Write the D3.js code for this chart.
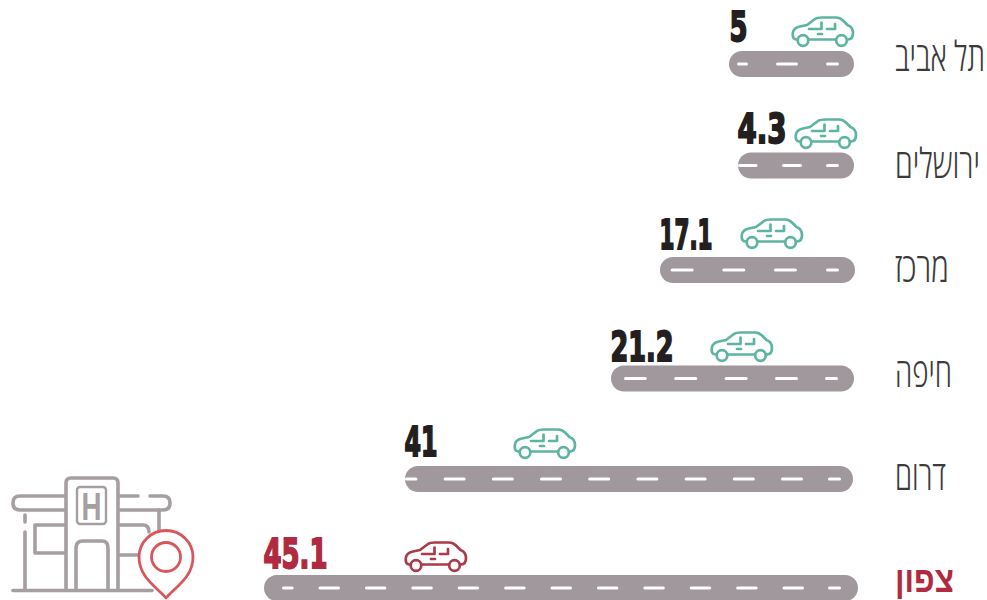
<!DOCTYPE html>
<html lang="he">
<head>
<meta charset="utf-8">
<script src="https://cdn.jsdelivr.net/npm/d3@7/dist/d3.min.js"></script>
<style>
html,body{margin:0;padding:0;background:#fff;overflow:hidden}
svg{display:block}
</style>
</head>
<body>
<svg id="chart" width="987" height="600"></svg>
<script>
// ---- data ----
const categories = ["תל אביב","ירושלים","מרכז","חיפה","דרום","צפון"];
const values = [5,4.3,17.1,21.2,41,45.1];
const valueLabels = ["5","4.3","17.1","21.2","41","45.1"];
const highlighted = "צפון";

// ---- layout / style ----
const ROAD = "#a0989c", TEAL = "#5db4a2", RED = "#b02b42", CARRED = "#a93b4a", PIN = "#d8565c", INK = "#231f20", LABEL = "#3b3b3b", ICON = "#a69fa2";
const svg = d3.select("#chart");

// The original's road lengths are not proportional to the figures, so the value scale is piecewise.
const xLeft = d3.scaleLinear().domain([4.3,5,17.1,21.2,41,45.1]).range([738,729,660,611,405,264]);
const by = (range) => d3.scaleOrdinal(categories, range);
const roadY = by([64,165.5,270,378.5,479,588]);
const roadRight = by([854,854,855,854,853,858]);
const roadH = 26;
const numBase = by([40.5,142.5,248.5,360.5,455.5,567.5]);
const numW = by([18,49,53,63,33,64]);
const carX = by([792,795,741,711,514,405]);
const carY = by([16.5,118.5,218.5,331.5,428.5,541.5]);
const labelBase = by([71,178,282,387,490,592]);
const labelW = by([90,85,54,57,51,59]);
const lastEnd = by([839,839,839,838,841,841]);
const fullEnd = by([798,802,797,798,803,804]);
const period = by([50,44.5,51.7,50.4,48.2,46.4]);
const dashLen = by([22,20,23,23,22,21.5]);
const dashInset = by([8,0,10,13,0,18]);

const dashesFor = (c, left) => {
  const out = [[lastEnd(c)-13, lastEnd(c)]];
  for (let end = fullEnd(c); end > left + dashInset(c) + 4; end -= period(c)) {
    out.push([Math.max(end - dashLen(c), left + dashInset(c)), end]);
  }
  return out;
};

const rows = categories.map((c,i)=>({c, v:values[i], label:valueLabels[i], hot:c===highlighted}));
const g = svg.selectAll("g.row").data(rows).join("g").attr("class","row");

// squeeze a text horizontally to the width it has in the original
function fit(sel, xf, yf, wf){
  sel.each(function(d){
    const n = this.getComputedTextLength();
    d3.select(this).attr("transform",`translate(${xf(d)},${yf(d)}) scale(${wf(d)/n},1)`);
  });
}

// roads
g.append("rect")
  .attr("x", d=>xLeft(d.v))
  .attr("y", d=>roadY(d.c)-roadH/2)
  .attr("width", d=>roadRight(d.c)-xLeft(d.v))
  .attr("height", roadH)
  .attr("rx", 13)
  .attr("fill", ROAD);

// lane dashes
g.selectAll("line.dash").data(d=>dashesFor(d.c,xLeft(d.v)).map(s=>({s,c:d.c}))).join("line")
  .attr("class","dash")
  .attr("x1", d=>d.s[0]+1.5).attr("x2", d=>d.s[1]-1.5)
  .attr("y1", d=>roadY(d.c)).attr("y2", d=>roadY(d.c))
  .attr("stroke","#fff").attr("stroke-width",3).attr("stroke-linecap","round");

// value numbers
g.append("text")
  .attr("class","num")
  .attr("direction","ltr")
  .style("font","700 41px 'DejaVu Sans'")
  .attr("fill", d=>d.hot?RED:INK)
  .attr("stroke", d=>d.hot?RED:INK)
  .attr("stroke-width",1.7)
  .attr("vector-effect","non-scaling-stroke")
  .style("vector-effect","non-scaling-stroke")
  .text(d=>d.label)
  .call(fit, d=>xLeft(d.v)+(d.v===5?1:0)-0.5, d=>numBase(d.c), d=>numW(d.c));

// cars
const carBody = "M4.5,23 C1,23 0.5,20 0.8,16.5 C1.2,12.5 4,10.8 8,10 L15,8.5 L23,2.5 C25,1 27,1 30,1 L44,1 C47,1 49,2 51,4 L55.5,8.5 C59.5,10 61,12.5 61,16.5 C61,20.5 60,23 56,23 M17,23 L43,23";
const car = g.append("g")
  .attr("transform", d=>`translate(${carX(d.c)},${carY(d.c)})`)
  .attr("fill","none")
  .attr("stroke", d=>d.hot?CARRED:TEAL)
  .attr("stroke-width",2.7)
  .attr("stroke-linecap","round")
  .attr("stroke-linejoin","round");
car.append("path").attr("d",carBody);
car.append("path").attr("d","M17,12.5 L29.5,12.5 L29.5,6 M35,12.5 L43,12.5 L43,7.5 M26,17.5 L30,17.5");
car.append("circle").attr("cx",11).attr("cy",24).attr("r",5.3);
car.append("circle").attr("cx",49.5).attr("cy",24).attr("r",5.3);

// category labels
g.append("text")
  .attr("class","cat")
  .attr("direction","rtl")
  .attr("text-anchor","end")
  .style("font", d=>d.hot ? "700 36px 'Liberation Sans'" : "300 41px 'Open Sans'")
  .attr("fill", d=>d.hot?RED:LABEL)
  .text(d=>d.c)
  .call(fit, ()=>895, d=>labelBase(d.c), d=>labelW(d.c));

// hospital icon
const icon = svg.append("g").attr("fill","none").attr("stroke",ICON).attr("stroke-width",3.6)
  .attr("stroke-linecap","round").attr("stroke-linejoin","round");
[
 "M66,589 L66,483 Q66,478 71,478 L113,478 Q118,478 118,483 L118,589",
 "M76,589 L76,548 Q76,541 83,541 L102,541 Q108,541 108,548 L108,589",
 "M64,496 L20,496 Q13,496 13,503 Q13,510 20,510 L64,510",
 "M120,496 L138,496 M150,496 L163,496 Q170,496 170,503 Q170,510 163,510 L120,510",
 "M25,515 L25,522 M25,532 L25,590",
 "M159,510 L159,532",
 "M65,525 L35,525 L35,553 L65,553",
 "M120,525 L143,525 Q149,525 149,532 M120,555 L140,555",
 "M13,590.5 L152,590.5"
].forEach(p=>icon.append("path").attr("d",p));
icon.append("rect").attr("x",77).attr("y",487).attr("width",29).attr("height",37).attr("rx",3).attr("stroke-width",2.4);
svg.append("text").attr("class","h").datum({}).attr("direction","ltr")
  .style("font","700 38px 'Liberation Sans'").attr("fill",ICON).text("H")
  .call(fit, ()=>81.5, ()=>519.5, ()=>20);

// pin
svg.append("path").attr("d","M166,598 C158,588 139,578 139,557 A27,26.5 0 1 1 193,557 C193,578 174,588 166,598 Z")
  .attr("fill","#fff").attr("stroke",PIN).attr("stroke-width",2.8).attr("stroke-linejoin","round");
svg.append("circle").attr("cx",166).attr("cy",557).attr("r",14.5).attr("fill","none").attr("stroke",PIN).attr("stroke-width",2.8);
</script>
</body>
</html>
